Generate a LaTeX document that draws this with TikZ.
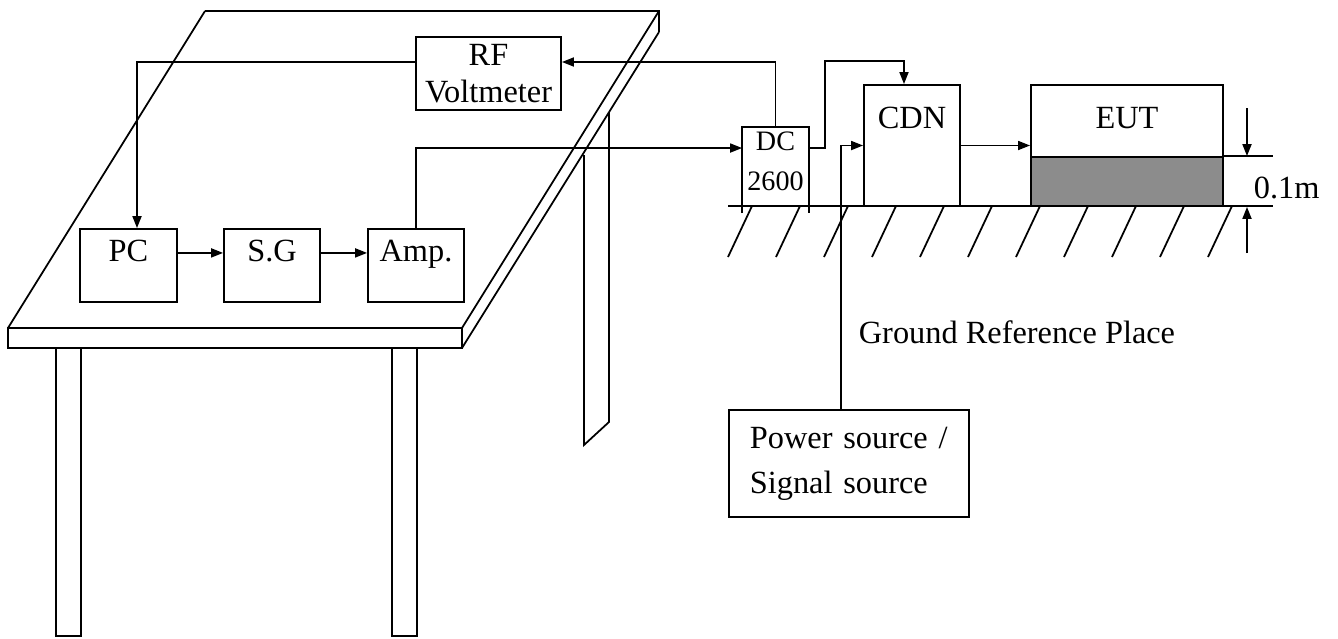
\documentclass[tikz,border=0pt]{standalone}
\usepackage{fontspec}
\setmainfont{Liberation Serif}
\usepackage{tikz}
\usetikzlibrary{arrows.meta}

\begin{document}
\begin{tikzpicture}[x=0.01cm, y=-0.01cm, line width=0.5pt,
        every node/.style={inner sep=0pt, font=\fontsize{9.2}{10.5}\selectfont},
        unit/.style={draw, minimum width=0.97cm, text height=0.32cm, text depth=0.41cm, anchor=base},
        arr/.style={-{Triangle[length=0.12cm, width=0.09cm]}}]
        \useasboundingbox (0,0) rectangle (1338,639);

        % Table top and legs
        \draw (205,11) -- (659,11) -- (659,32);
        \draw (205,11) -- (8,328);
        \draw (659,11) -- (462,328);
        \draw (659,32) -- (462,348);
        \draw (8,328) rectangle (462,348);
        \draw (56,348) rectangle (81,636);
        \draw (392,348) rectangle (417,636);
        \draw (584,155) -- (584,445) -- (609,422) -- (609,112);

        % Instruments on the table
        \node[draw, minimum width=1.45cm, minimum height=0.73cm, align=center] (rf) at (488.5,73.5) {RF\\Voltmeter};
        \node[unit] (pc) at (128.5,261) {PC};
        \node[unit, minimum width=0.96cm] (sg) at (272,261) {S.G};
        \node[unit, minimum width=0.96cm] (amp) at (416,261) {Amp.};

        % Ground reference plane
        \draw (728,206) -- (1273,206);
        \foreach \i in {0,...,10} {
            \draw ({752+48*\i},206) -- ++(-24,51);
        }

        % Coupling devices and EUT
        \node[anchor=north, minimum width=0.65cm, inner ysep=0.035cm, align=center,
              font=\fontsize{8}{11.4}\selectfont] (dc) at (775.5,127) {DC\\2600};
        \draw (dc.north west) ++(0,86) -- (dc.north west) -- (dc.north east) -- ++(0,86);
        \node[unit, minimum width=0.96cm, text height=0.43cm, text depth=0.78cm] (cdn) at (912,128) {CDN};
        \node[unit, minimum width=1.92cm, text height=0.43cm, text depth=0.29cm] (eut) at (1127,128) {EUT};
        \node[draw, fill=black!45, minimum width=1.92cm, minimum height=0.49cm] (stand) at (1127,181.5) {};
        \node[draw, anchor=north west, text width=1.98cm, inner xsep=0.21cm, minimum height=1.07cm,
              align=left, font=\fontsize{9.2}{12.8}\selectfont] (src) at (728,409) {Power source /\\Signal source};
        \node[anchor=west] (grp) at (858,332) {Ground Reference Place};

        % Height above ground
        \coordinate (dimtop) at (1247,108);
        \coordinate (dimbot) at (1247,253);
        \draw (stand.north east) -- ++(49,0);
        \draw[arr] (dimtop) -- (dimtop |- stand.north east);
        \draw[arr] (dimbot) -- (dimbot |- stand.south east);
        \node[anchor=west] (height) at (1253,188) {0.1m};

        % Signal paths
        \draw[arr] ([yshift=0.115cm]rf.west) -| ([xshift=0.085cm]pc.north);
        \draw[arr] (pc.mid east) -- (sg.mid west);
        \draw[arr] (sg.mid east) -- (amp.mid west);
        \draw[arr] (amp.north) |- ([yshift=-0.21cm]dc.north west);
        \draw[arr] (dc.north) |- ([yshift=0.115cm]rf.east);
        \draw[arr] ([yshift=-0.21cm]dc.north east) -- ++(16,0) |- ([xshift=-0.08cm, yshift=0.23cm]cdn.north)
            -- ([xshift=-0.08cm]cdn.north);
        \draw[arr] ([xshift=-0.08cm]src.north) |- (cdn.west);
        \draw[arr] (cdn.east) -- (cdn.east -| eut.west);
    \end{tikzpicture}
\end{document}
